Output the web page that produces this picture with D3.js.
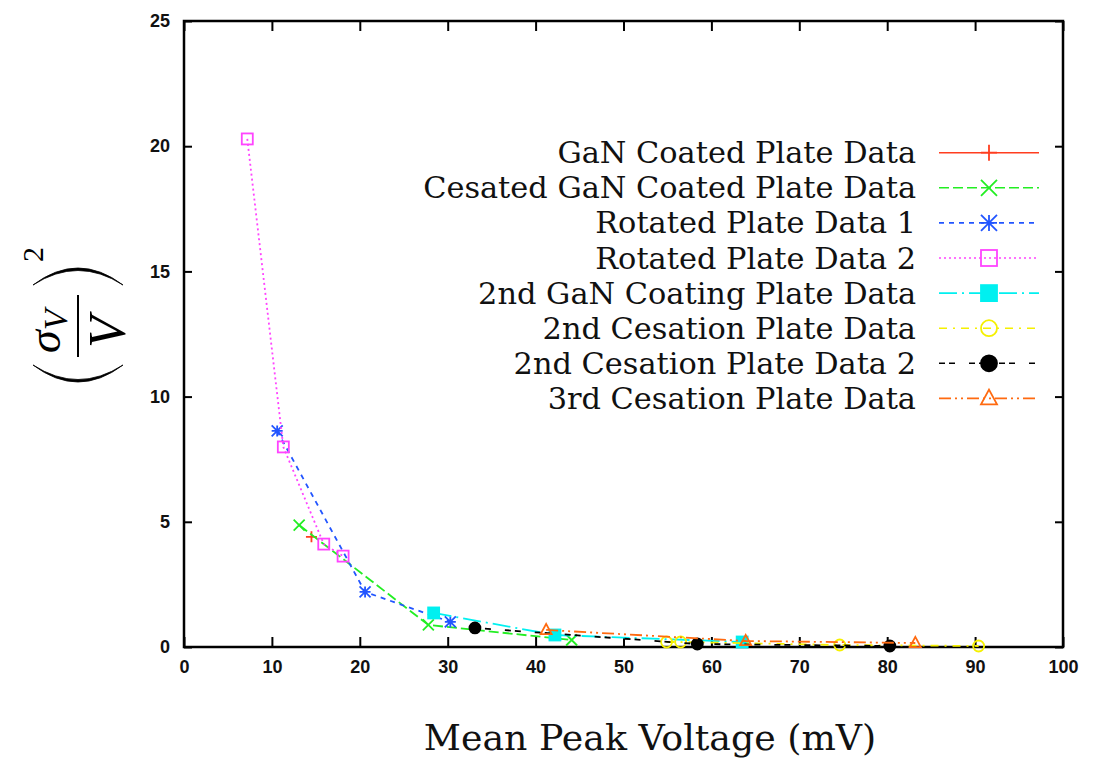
<!DOCTYPE html>
<html>
<head>
<meta charset="utf-8">
<script src="https://cdn.jsdelivr.net/npm/d3@7"></script>
<style>
body{margin:0;background:#fff}
</style>
</head>
<body>
<div id="chart"></div>
<script>
// axis ticks
var xTicks = [0,10,20,30,40,50,60,70,80,90,100]
var yTicks = [0,5,10,15,20,25]

var seriesNames = ["GaN Coated Plate Data", "Cesated GaN Coated Plate Data", "Rotated Plate Data 1",
  "Rotated Plate Data 2", "2nd GaN Coating Plate Data", "2nd Cesation Plate Data",
  "2nd Cesation Plate Data 2", "3rd Cesation Plate Data"]

// mean peak voltage (mV) / (sigma_V/V)^2 per series
var ganX = [14.5]
var ganY = [4.4]
var cesX = [13.1, 27.8, 44.1]
var cesY = [4.87, 0.88, 0.28]
var rot1X = [10.6, 20.6, 30.3]
var rot1Y = [8.63, 2.2, 1.0]
var rot2X = [7.2, 11.3, 15.9, 18.1]
var rot2Y = [20.29, 7.99, 4.11, 3.63]
var gan2X = [28.4, 42.2, 63.5]
var gan2Y = [1.36, 0.48, 0.2]
var ces2X = [54.9, 56.5, 74.6, 90.4]
var ces2Y = [0.2, 0.2, 0.08, 0.04]
var ces2bX = [33.1, 58.4, 80.3]
var ces2bY = [0.76, 0.12, 0.04]
var ces3X = [41.2, 63.9, 83.2]
var ces3Y = [0.68, 0.24, 0.16]

var allX = [ganX, cesX, rot1X, rot2X, gan2X, ces2X, ces2bX, ces3X]
var allY = [ganY, cesY, rot1Y, rot2Y, gan2Y, ces2Y, ces2bY, ces3Y]

var colors = ["#ff3d1f", "#22ee22", "#2255ff", "#ff44ff", "#00f0f0", "#f5f000", "#000000", "#ff6a10"]
var dashes = [null, "10,4", "5,5", "2,3", "18,5,2,5", "8,6,2,6", "6,4,6,14", "12,4,2,4,2,4"]
var markers = ["plus", "cross", "star", "square", "fsquare", "circle", "fcircle", "triangle"]

var w = 1095, h = 759
var margin = {top: 21, right: 32, bottom: 112, left: 184}

var svg = d3.select("#chart").append("svg")
    .attr("width", w)
    .attr("height", h)
svg.append("rect")
    .attr("width", w)
    .attr("height", h)
    .attr("fill", "white")

var xScale = d3.scaleLinear().domain([0, 100]).range([margin.left, w - margin.right])
var yScale = d3.scaleLinear().domain([0, 25]).range([h - margin.bottom, margin.top])

function tidy(g){
  g.select(".domain").remove()
  g.selectAll(".tick line").attr("stroke", "#000").attr("stroke-width", 2)
  g.selectAll("text")
    .attr("font-family", "Liberation Sans, Arial, sans-serif")
    .attr("font-weight", "bold")
    .attr("font-size", 18)
    .attr("fill", "#111")
}

svg.append("g")
    .attr("transform", `translate(0, ${yScale(0)})`)
    .call(d3.axisBottom(xScale).tickValues(xTicks).tickSize(-10).tickPadding(13))
    .call(tidy)
svg.append("g")
    .attr("transform", `translate(0, ${yScale(25)})`)
    .call(d3.axisTop(xScale).tickValues(xTicks).tickSize(-10).tickFormat(""))
    .call(tidy)
svg.append("g")
    .attr("transform", `translate(${xScale(0)}, 0)`)
    .call(d3.axisLeft(yScale).tickValues(yTicks).tickSize(-8).tickPadding(14))
    .call(tidy)
svg.append("g")
    .attr("transform", `translate(${xScale(100)}, 0)`)
    .call(d3.axisRight(yScale).tickValues(yTicks).tickSize(-8).tickFormat(""))
    .call(tidy)

svg.append("rect")
    .attr("x", xScale(0))
    .attr("y", yScale(25))
    .attr("width", xScale(100) - xScale(0))
    .attr("height", yScale(0) - yScale(25))
    .attr("fill", "none")
    .attr("stroke", "#000")
    .attr("stroke-width", 2.5)

function drawMarker(g, type, cx, cy, s, color){
  var r = s / 2
  var sw = 1.8
  if(type == "plus"){
    g.append("path").attr("d", `M${cx-r},${cy}H${cx+r}M${cx},${cy-r}V${cy+r}`)
      .attr("stroke", color).attr("stroke-width", sw).attr("fill", "none")
  }else if(type == "cross"){
    g.append("path").attr("d", `M${cx-r},${cy-r}L${cx+r},${cy+r}M${cx-r},${cy+r}L${cx+r},${cy-r}`)
      .attr("stroke", color).attr("stroke-width", sw).attr("fill", "none")
  }else if(type == "star"){
    g.append("path").attr("d", `M${cx-r},${cy}H${cx+r}M${cx},${cy-r}V${cy+r}M${cx-r},${cy-r}L${cx+r},${cy+r}M${cx-r},${cy+r}L${cx+r},${cy-r}`)
      .attr("stroke", color).attr("stroke-width", sw).attr("fill", "none")
  }else if(type == "square" || type == "fsquare"){
    g.append("rect").attr("x", cx - r).attr("y", cy - r).attr("width", s).attr("height", s)
      .attr("stroke", color).attr("stroke-width", sw)
      .attr("fill", type == "fsquare" ? color : "none")
  }else if(type == "circle" || type == "fcircle"){
    g.append("circle").attr("cx", cx).attr("cy", cy).attr("r", r)
      .attr("stroke", color).attr("stroke-width", sw)
      .attr("fill", type == "fcircle" ? color : "none")
  }else if(type == "triangle"){
    g.append("path").attr("d", `M${cx},${cy-r*1.1}L${cx+r},${cy+r*0.75}L${cx-r},${cy+r*0.75}Z`)
      .attr("stroke", color).attr("stroke-width", sw).attr("fill", "none")
  }
}

var line = d3.line().x(d => xScale(d[0])).y(d => yScale(d[1]))
var plot = svg.append("g").attr("id", "plot")

allX.forEach(function(xs, i){
  var pts = xs.map((x, j) => [x, allY[i][j]])
  var g = plot.append("g")
  g.append("path")
      .datum(pts)
      .attr("d", line)
      .attr("fill", "none")
      .attr("stroke", colors[i])
      .attr("stroke-width", 1.8)
      .attr("stroke-dasharray", dashes[i])
  pts.forEach(function(p){
    drawMarker(g, markers[i], xScale(p[0]), yScale(p[1]), 11, colors[i])
  })
})

// legend
var legend = svg.append("g").attr("id", "legend")
var legendTop = 152.7, legendStep = 35.1
seriesNames.forEach(function(name, i){
  var y = legendTop + i * legendStep
  legend.append("text")
      .attr("x", 916)
      .attr("y", y + 10.5)
      .attr("text-anchor", "end")
      .attr("font-family", "DejaVu Serif, serif")
      .attr("font-size", 30.4)
      .attr("fill", "#111")
      .text(name)
  legend.append("line")
      .attr("x1", 939).attr("x2", 1039)
      .attr("y1", y).attr("y2", y)
      .attr("stroke", colors[i])
      .attr("stroke-width", 1.6)
      .attr("stroke-dasharray", dashes[i])
  drawMarker(legend, markers[i], 989, y, 16, colors[i])
})

// x label
svg.append("text")
    .attr("x", 650)
    .attr("y", 750)
    .attr("text-anchor", "middle")
    .attr("font-family", "DejaVu Serif, serif")
    .attr("font-size", 36.3)
    .attr("fill", "#111")
    .text("Mean Peak Voltage (mV)")

// y label: (sigma_V / V)^2, rotated
var yl = svg.append("g").attr("transform", "translate(78,326) rotate(-90)")
var mathFont = "Liberation Serif, Times New Roman, serif"
yl.append("line").attr("x1", -31).attr("x2", 31).attr("y1", 0).attr("y2", 0)
    .attr("stroke", "#000").attr("stroke-width", 2)
var num = yl.append("text")
    .attr("x", -27).attr("y", -18)
    .attr("font-family", mathFont)
    .attr("font-style", "italic")
    .attr("font-size", 46)
    .attr("fill", "#000")
num.append("tspan").text("σ")
num.append("tspan").attr("dy", 7).attr("font-size", 34).text("V")
yl.append("text")
    .attr("x", -6).attr("y", 47)
    .attr("text-anchor", "middle")
    .attr("font-family", mathFont)
    .attr("font-style", "italic")
    .attr("font-size", 52)
    .attr("fill", "#000")
    .text("V")
yl.append("path")
    .attr("d", "M-39,-45Q-73,0,-39,45Q-68,0,-39,-45Z")
    .attr("fill", "#000").attr("stroke", "#000").attr("stroke-width", 0.8)
yl.append("path")
    .attr("d", "M41,-45Q75,0,41,45Q70,0,41,-45Z")
    .attr("fill", "#000").attr("stroke", "#000").attr("stroke-width", 0.8)
yl.append("text")
    .attr("x", 64).attr("y", -35)
    .attr("font-family", mathFont)
    .attr("font-size", 30)
    .attr("fill", "#000")
    .text("2")
</script>
</body>
</html>
